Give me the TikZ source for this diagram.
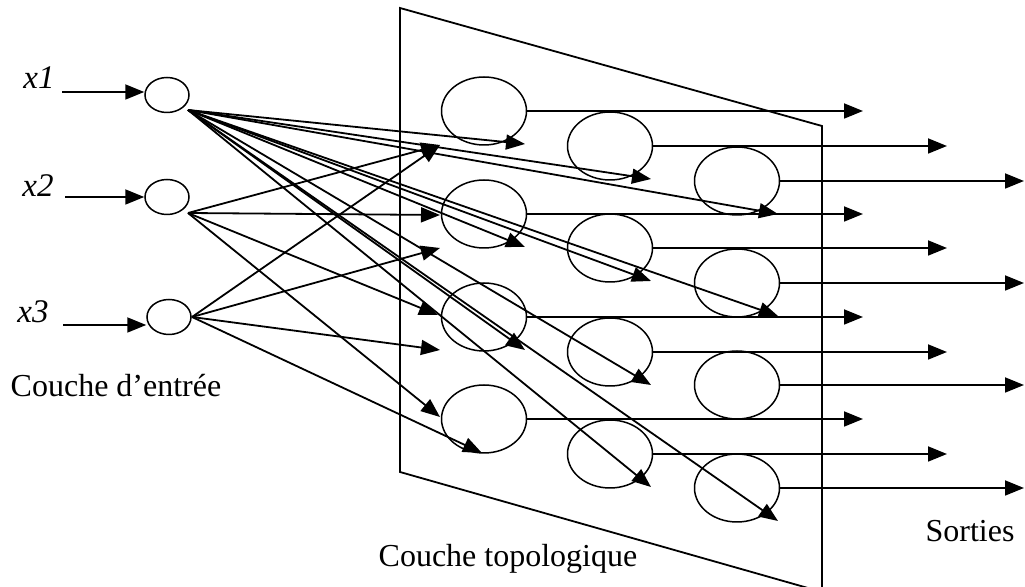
\documentclass[tikz,border=0pt]{standalone}
\usepackage{fontspec}
\setmainfont{Liberation Serif}
\usetikzlibrary{shapes.geometric,arrows.meta,calc}
\begin{document}
\begin{tikzpicture}[x=0.5pt,y=-0.5pt,
  line width=0.9pt,
  inneuron/.style={draw,ellipse,inner sep=0pt,minimum width=22pt,minimum height=17.5pt,line width=0.75pt},
  topneuron/.style={draw,ellipse,inner sep=0pt,minimum width=42.5pt,minimum height=34pt,line width=0.75pt},
  conn/.style={-{Triangle[length=9.5pt,width=7.5pt]}},
  lbl/.style={font=\fontsize{16}{19}\selectfont,inner sep=0pt,anchor=base},
  xlbl/.style={font=\fontsize{16.5}{19}\selectfont\itshape,inner sep=0pt,anchor=base}]
\useasboundingbox (0,0) rectangle (1025,587);
% topological layer panel
\draw[line width=0.9pt] (400,8) -- (822,126) -- (822,592) -- (400,472) -- cycle;
% input neurons
\node[inneuron] (i1) at (167,95) {};
\node[inneuron] (i2) at (167,197) {};
\node[inneuron] (i3) at (169,317) {};
% labels
\node[xlbl] (l1) at (39,89) {x1};
\node[xlbl] (l2) at (38,197) {x2};
\node[xlbl] (l3) at (33,323) {x3};
\node[lbl] (lin) at (116,397) {Couche d’entrée};
\node[lbl] (ltop) at (508,567) {Couche topologique};
\node[lbl] (lout) at (970,542) {Sorties};
% input arrows
\coordinate (s1) at (62,92);
\coordinate (s2) at (65,197);
\coordinate (s3) at (63,325);
\draw[conn] (s1) -- (s1 -| i1.west);
\draw[conn] (s2) -- (s2 -| i2.west);
\draw[conn] (s3) -- (s3 -| i3.west);
% topological neurons
\foreach \r/\y in {1/111,2/214,3/317,4/419} \node[topneuron] (c1\r) at (484,\y) {};
\foreach \r/\y in {1/146,2/248,3/352,4/454} \node[topneuron] (c2\r) at (610,\y) {};
\foreach \r/\y in {1/181,2/283,3/385,4/488} \node[topneuron] (c3\r) at (737,\y) {};
% origins of the connections
\coordinate (o1) at ($(i1)+(21,15)$);
\coordinate (o2) at ($(i2)+(21,16)$);
\coordinate (o3) at ($(i3)+(23,0)$);
% connections from x1
\foreach \t in {c11,c21,c31,c12,c22,c32,c13,c23,c24,c34}
  \draw[conn] (o1) -- ($(\t)+(41,33)$);
% connections from x2
\draw[conn] (o2) -- ($(c11)+(-44,34)$);
\draw[conn] (o2) -- ($(c12)+(-44,1)$);
\draw[conn] (o2) -- ($(c13)+(-46,-2)$);
\draw[conn] (o2) -- ($(c14)+(-44,-2)$);
% connections from x3
\draw[conn] (o3) -- ($(c11)+(-44,34)$);
\draw[conn] (o3) -- ($(c12)+(-44,34)$);
\draw[conn] (o3) -- ($(c13)+(-44,33)$);
\draw[conn] (o3) -- ($(c14)+(-2,34)$);
% outputs
\coordinate (e1) at (863,0);
\coordinate (e2) at (947,0);
\coordinate (e3) at (1024,0);
\foreach \r in {1,2,3,4} {
  \draw[conn] (c1\r.east) -- (c1\r.east -| e1);
  \draw[conn] (c2\r.east) -- (c2\r.east -| e2);
  \draw[conn] (c3\r.east) -- (c3\r.east -| e3);
}
\end{tikzpicture}
\end{document}
